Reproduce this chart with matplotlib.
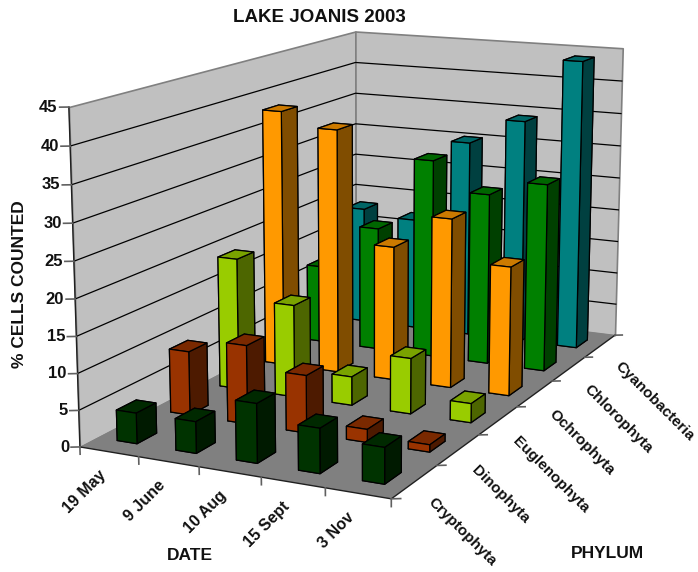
import numpy as np
import matplotlib
matplotlib.use('Agg')
import matplotlib.pyplot as plt
from mpl_toolkits.mplot3d import proj3d
from mpl_toolkits.mplot3d.art3d import Poly3DCollection

plt.rcParams['font.family'] = ['Liberation Sans', 'DejaVu Sans']

dates = ['19 May', '9 June', '10 Aug', '15 Sept', '3 Nov']
phyla = ['Cryptophyta', 'Dinophyta', 'Euglenophyta', 'Ochrophyta', 'Chlorophyta', 'Cyanobacteria']
cryptophyta = [4.2, 4.3, 8, 6, 4.8]
dinophyta = [9, 11, 8, 1.8, 1]
euglenophyta = [19, 13.3, 4.1, 7.9, 2.7]
ochrophyta = [38, 36, 19.7, 24.7, 18.7]
chlorophyta = [11.8, 18.7, 29.9, 25.6, 27.9]
cyanobacteria = [18.2, 17.3, 30.3, 34.3, 44]
values = [cryptophyta, dinophyta, euglenophyta, ochrophyta, chlorophyta, cyanobacteria]
z_ticks = list(range(0, 50, 5))
front_colors = ['#003300', '#993300', '#99CC00', '#FF9900', '#008000', '#008080']

nx, ny, zmax = len(dates), len(phyla), 45
ink = '#111111'

fig = plt.figure(figsize=(6.98, 5.72), dpi=100)
# camera fitted to the corners of the picture
ax = fig.add_axes([-0.25 + 10.3 / 698, -0.25 + 41.2 / 572, 1.5, 1.5], projection='3d')
ax.computed_zorder = False
ax.set_xlim(0, nx, view_margin=0)
ax.set_ylim(0, ny, view_margin=0)
ax.set_zlim(0, zmax, view_margin=0)
ax.view_init(12.888, -64.2134)
ax.set_proj_type('persp', focal_length=0.4521)
ax.set_box_aspect((1, 1.8162, 0.999), zoom=0.8318)
ax.set_axis_off()


def label(x, y, z, s, **kw):
    # Text3D ignores rotation, so project the anchor and place a 2D text
    px, py, _ = proj3d.proj_transform(x, y, z, ax.get_proj())
    ax.text2D(px, py, s, transform=ax.transData, fontweight='bold', color=ink, zorder=5,
              rotation_mode='anchor', **kw)


# walls and floor
wall = '#C0C0C0'
floor = '#808080'
ax.add_collection3d(Poly3DCollection([[(0, 0, 0), (0, ny, 0), (0, ny, zmax), (0, 0, zmax)]],
                                     facecolor=wall, edgecolor=floor, linewidth=1.2, zorder=1))
ax.add_collection3d(Poly3DCollection([[(0, ny, 0), (nx, ny, 0), (nx, ny, zmax), (0, ny, zmax)]],
                                     facecolor=wall, edgecolor=floor, linewidth=1.2, zorder=1))
ax.add_collection3d(Poly3DCollection([[(0, 0, 0), (nx, 0, 0), (nx, ny, 0), (0, ny, 0)]],
                                     facecolor=floor, edgecolor='none', zorder=2))

# gridlines on both walls
for z in z_ticks[1:-1]:
    ax.plot([0, 0, nx], [0, ny, ny], [z, z, z], color='black', lw=0.9, zorder=3)

# axis lines and tick marks
axis_kw = dict(color='#202020', lw=1.0, zorder=4)
ax.plot([0, 0], [0, 0], [0, zmax], **axis_kw)
ax.plot([0, nx, nx], [0, 0, ny], [0, 0, 0], **axis_kw)
for z in z_ticks:
    ax.plot([0, -0.11], [0, -0.042], [z, z], color='#606060', lw=1.2, zorder=4)
    label(-0.135, -0.05, z, str(z), ha='right', va='center', fontsize=12)
for i in range(nx + 1):
    ax.plot([i, i], [0, 0], [0, -1.0], color='#606060', lw=1.2, zorder=4)
for j in range(ny + 1):
    ax.plot([nx, nx + 0.11], [j, j + 0.042], [0, 0], color='#606060', lw=1.2, zorder=4)

for i, lab in enumerate(dates):
    label(i + 0.4, 0, -3, lab, ha='right', va='center', rotation=45, fontsize=11.5)
for j, lab in enumerate(phyla):
    label(nx + 0.17 + 0.02 * j, j + 0.6, -2.6 - 0.08 * j, lab, ha='left', va='center', rotation=-45, fontsize=11)


def darker(c, k):
    return tuple(np.array(matplotlib.colors.to_rgb(c)) * k)


# back rows first, left to right
order = 10
for j in range(ny - 1, -1, -1):
    for i in range(nx):
        c = front_colors[j]
        # face order of bar3d: -z +z -y +y -x +x
        cols = [c, darker(c, 0.8), c, c, c, darker(c, 0.5)]
        ax.bar3d(i + 0.33, j + 0.32, 0, 0.34, 0.36, values[j][i], color=cols, shade=False,
                 edgecolor='black', linewidth=0.9, zorder=order)
        order += 1

fig.text(319 / 698, 1 - 17 / 572, 'LAKE JOANIS 2003', ha='center', va='center', fontsize=13.5, fontweight='bold', color=ink)
fig.text(20 / 698, 1 - 284 / 572, '% CELLS COUNTED', ha='center', va='center', rotation=90, fontsize=12.5, fontweight='bold', color=ink)
fig.text(190 / 698, 1 - 556 / 572, 'DATE', ha='center', va='center', fontsize=12.5, fontweight='bold', color=ink)
fig.text(607 / 698, 1 - 553 / 572, 'PHYLUM', ha='center', va='center', fontsize=12.5, fontweight='bold', color=ink)
fig.savefig('out.png', dpi=100)
